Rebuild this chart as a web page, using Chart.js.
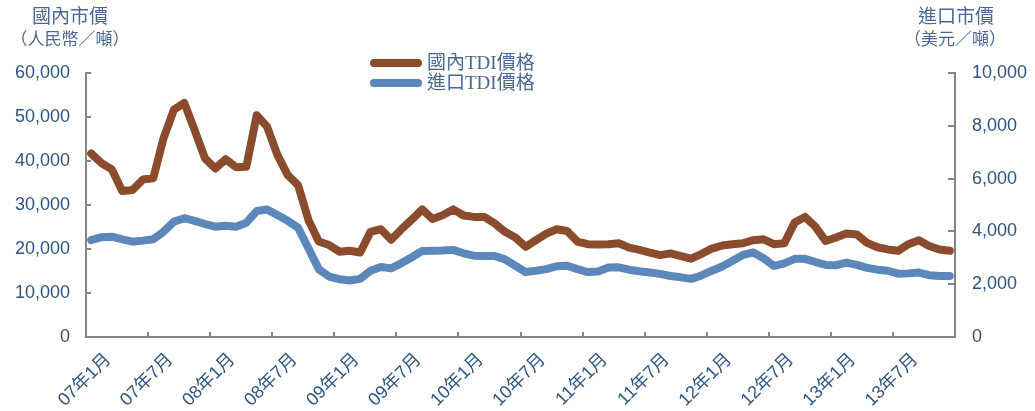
<!DOCTYPE html>
<html>
<head>
<meta charset="utf-8">
<script src="https://cdn.jsdelivr.net/npm/chart.js@4.4.0/dist/chart.umd.min.js"></script>
<style>
  html, body { margin: 0; padding: 0; background: #fff; }
  #wrap { width: 1035px; height: 411px; }
</style>
</head>
<body>
<div id="wrap"><canvas id="tdiChart" width="1035" height="411"></canvas></div>
<script>
// month labels 07年1月 .. 13年12月
const years = ['07', '08', '09', '10', '11', '12', '13'];
const monthLabels = [];
years.forEach(y => { for (let m = 1; m <= 12; m++) monthLabels.push(y + '年' + m + '月'); });

const seriesNames = ['國內TDI價格', '進口TDI價格'];

// 國內市價 (人民幣/噸)
const domesticPrice = [
    41700, 39500, 38100, 33200, 33400, 35800, 36100, 45200, 51700, 53200,
    47000, 40600, 38300, 40400, 38600, 38700, 50400, 47800, 41400, 36800,
    34500, 26600, 21700, 20900, 19400, 19600, 19200, 23900, 24500, 22100,
    24500, 26700, 29000, 26800, 27700, 29000, 27600, 27300, 27300, 25800,
    23900, 22600, 20500, 22000, 23500, 24500, 24100, 21700, 21100, 21000,
    21100, 21300, 20300, 19800, 19200, 18600, 19000, 18400, 17800, 18900,
    20100, 20800, 21100, 21300, 22000, 22200, 21100, 21300, 26000, 27300,
    25100, 21800, 22600, 23500, 23300, 21400, 20400, 19900, 19600, 21100,
    22000, 20700, 19900, 19600
];

// 進口市價 (美元/噸)
const importPrice = [
    3670, 3780, 3800, 3700, 3610, 3650, 3700, 3990, 4370, 4500,
    4400, 4280, 4180, 4210, 4180, 4330, 4770, 4830, 4620, 4400,
    4140, 3360, 2570, 2290, 2190, 2140, 2200, 2510, 2650, 2600,
    2800, 3020, 3260, 3270, 3280, 3300, 3170, 3080, 3070, 3070,
    2940, 2700, 2460, 2510, 2570, 2680, 2700, 2570, 2460, 2480,
    2630, 2640, 2550, 2490, 2440, 2390, 2310, 2260, 2200, 2330,
    2510, 2670, 2890, 3110, 3200, 2980, 2690, 2790, 2960, 2960,
    2840, 2730, 2720, 2820, 2730, 2620, 2550, 2510, 2400, 2410,
    2440, 2340, 2310, 2310
];

const leftTitle = ['國內市價', '（人民幣／噸）'];
const rightTitle = ['進口市價', '（美元／噸）'];

const BROWN = '#8b4b2d';
const BLUE = '#5b87ba';
const AXIS = '#858585';
const TICK_TXT = '#2e5580';
const NOTE_TXT = '#4a6890';
const serifFont = "'Liberation Serif', 'Noto Sans CJK TC', serif";

// titles over both axes + legend in the middle
const annotations = {
    id: 'annotations',
    afterDraw(chart) {
        const ctx = chart.ctx;
        ctx.save();
        ctx.fillStyle = NOTE_TXT;
        ctx.textAlign = 'center';
        ctx.textBaseline = 'middle';
        ctx.font = '19px ' + serifFont;
        ctx.fillText(leftTitle[0], 70, 18);
        ctx.fillText(rightTitle[0], 956, 18);
        ctx.font = '17px ' + serifFont;
        ctx.fillText(leftTitle[1], 70, 41);
        ctx.fillText(rightTitle[1], 955, 41);

        chart.data.datasets.forEach((ds, i) => {
            const y = 63 + i * 20;
            ctx.strokeStyle = ds.borderColor;
            ctx.lineWidth = 8;
            ctx.lineCap = 'round';
            ctx.beginPath();
            ctx.moveTo(374, y);
            ctx.lineTo(418, y);
            ctx.stroke();
            ctx.fillStyle = NOTE_TXT;
            ctx.textAlign = 'left';
            ctx.font = '19px ' + serifFont;
            ctx.fillText(ds.label, 427, y + 1);
        });
        ctx.restore();
    }
};

Chart.defaults.font.family = "'Liberation Sans', 'Noto Sans CJK TC', Arial, sans-serif";

const ctx = document.getElementById('tdiChart').getContext('2d');
const chart = new Chart(ctx, {
    type: 'line',
    data: {
        labels: monthLabels,
        datasets: [
            { label: seriesNames[0], data: domesticPrice, yAxisID: 'yL', borderColor: BROWN, borderWidth: 8,
              pointRadius: 0, tension: 0, borderJoinStyle: 'round', borderCapStyle: 'round' },
            { label: seriesNames[1], data: importPrice, yAxisID: 'yR', borderColor: BLUE, borderWidth: 8,
              pointRadius: 0, tension: 0, borderJoinStyle: 'round', borderCapStyle: 'round' }
        ]
    },
    options: {
        responsive: false,
        animation: false,
        layout: { padding: { top: 73, left: 0, right: 0, bottom: 0 } },
        plugins: { legend: { display: false }, tooltip: { enabled: false } },
        scales: {
            x: {
                offset: true,
                grid: {
                    offset: true,
                    drawOnChartArea: false,
                    tickLength: -5,
                    lineWidth: 2,
                    color: c => (c.index % 6 === 0 ? AXIS : 'rgba(0,0,0,0)')
                },
                border: { display: true, color: AXIS, width: 2 },
                ticks: {
                    autoSkip: false,
                    maxRotation: 45,
                    minRotation: 45,
                    padding: 17,
                    labelOffset: 17,
                    color: TICK_TXT,
                    font: { size: 18 },
                    callback: function (val, i) { return i % 6 === 0 ? this.getLabelForValue(val) : ''; }
                },
                afterFit: s => { s.height = 74; }
            },
            yL: {
                position: 'left',
                min: 0, max: 60000,
                ticks: { stepSize: 10000, padding: 21, color: TICK_TXT, font: { size: 18 } },
                grid: { drawOnChartArea: false, tickLength: -5, lineWidth: 2, color: AXIS },
                border: { display: true, color: AXIS, width: 2 },
                afterFit: s => { s.width = 86; }
            },
            yR: {
                position: 'right',
                min: 0, max: 10000,
                ticks: { stepSize: 2000, padding: 24, color: TICK_TXT, font: { size: 18 } },
                grid: { drawOnChartArea: false, tickLength: -7, lineWidth: 2, color: AXIS },
                border: { display: true, color: AXIS, width: 2 },
                afterFit: s => { s.width = 80; }
            }
        }
    },
    plugins: [annotations]
});
</script>
</body>
</html>
